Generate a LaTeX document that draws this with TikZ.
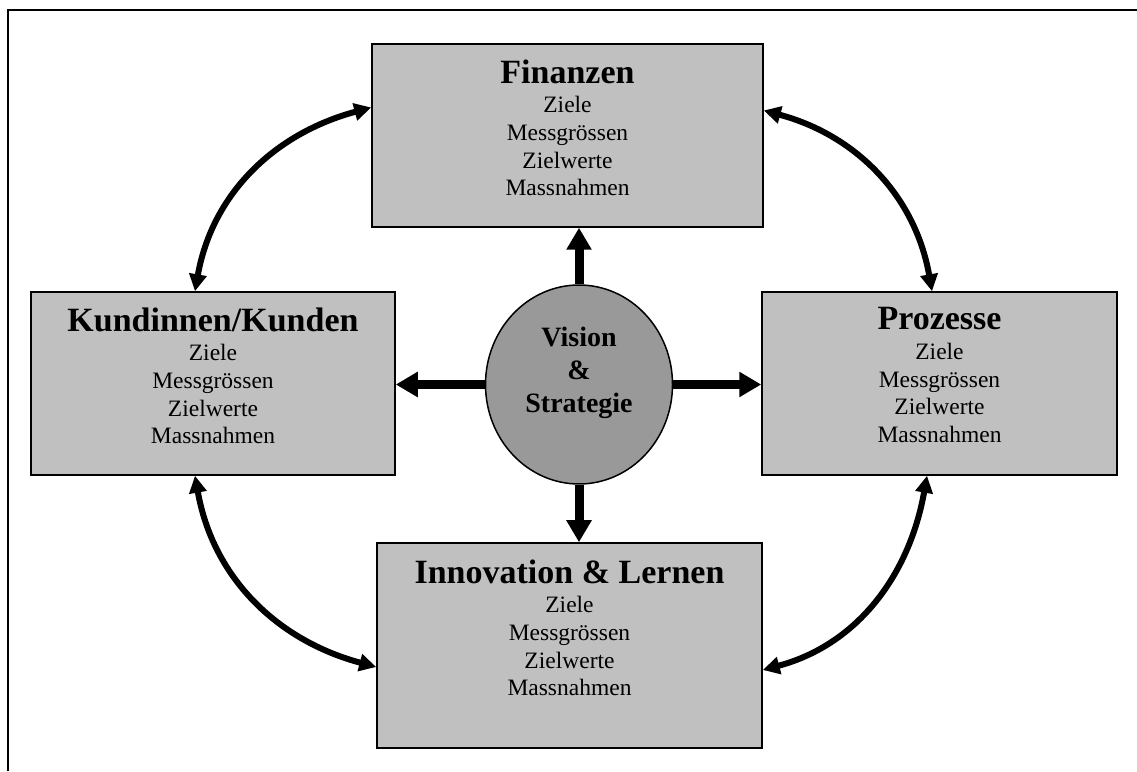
\documentclass[tikz,border=0pt]{standalone}
\usepackage{fontspec}
\setmainfont{Liberation Serif}
\usetikzlibrary{calc,shapes,arrows.meta}
\definecolor{boxgray}{RGB}{192,192,192}
\definecolor{visgray}{RGB}{153,153,153}
\newcommand{\boxtitle}[1]{{\fontsize{34}{34}\selectfont\bfseries #1}}

\begin{document}
\begin{tikzpicture}[x=1pt,y=1pt,
    box/.style={draw=black, line width=1.5pt, fill=boxgray, inner sep=0pt, minimum height=183pt},
    boxtext/.style={anchor=north, inner sep=0pt, align=center, font=\fontsize{23.5}{27.7}\selectfont},
    vision/.style={ellipse, draw=black, line width=1.5pt, fill=visgray, inner sep=0pt, minimum width=187pt, minimum height=199pt},
    bigarrow/.style={line width=9pt, -{Triangle[length=22pt,width=24pt]}},
    curvearrow/.style={line width=6pt, {Triangle[length=17pt,width=17pt]}-{Triangle[length=17pt,width=17pt]}}]
    \useasboundingbox (0,0) rectangle (1137,771);

    % frame
    \draw [line width=2.5pt] (8,0) -- (8,761) -- (1137,761);

    % the four boxes
    \node [box, minimum width=391pt] (fin) at (567.5,635.5) {};
    \node [box, minimum width=364pt] (kun) at (213,387.5) {};
    \node [box, minimum width=355pt] (pro) at (939.5,387.5) {};
    \node [box, minimum width=385pt, minimum height=205pt] (inn) at (569.5,125.5) {};

    \node [boxtext] (fintext) at ([yshift=-16pt]fin.north) {\boxtitle{Finanzen}\\[2pt] Ziele\\ Messgrössen\\ Zielwerte\\ Massnahmen};
    \node [boxtext] (kuntext) at ([yshift=-16pt]kun.north) {\boxtitle{Kundinnen/Kunden}\\[2pt] Ziele\\ Messgrössen\\ Zielwerte\\ Massnahmen};
    \node [boxtext] (protext) at ([yshift=-16pt]pro.north) {\boxtitle{Prozesse}\\[2pt] Ziele\\ Messgrössen\\ Zielwerte\\ Massnahmen};
    \node [boxtext] (inntext) at ([yshift=-17pt]inn.north) {\boxtitle{Innovation \& Lernen}\\[2pt] Ziele\\ Messgrössen\\ Zielwerte\\ Massnahmen};

    % vision in the middle
    \node [vision] (vs) at (579,386.5) {};
    \node [inner sep=0pt, align=center, font=\fontsize{28}{33}\selectfont\bfseries] (vstext) at ([yshift=11.5pt]vs.center) {Vision\\ \&\\ Strategie};

    \draw [bigarrow] (vs.north) -- (vs.north |- fin.south);
    \draw [bigarrow] (vs.west) -- (vs.west -| kun.east);
    \draw [bigarrow] (vs.east) -- (vs.east -| pro.west);
    \draw [bigarrow] (vs.south) -- (vs.south |- inn.north);

    % curved links between the boxes
    \draw [curvearrow] ([xshift=-18pt]kun.north) to [out=80, in=195] ([yshift=28pt]fin.west);
    \draw [curvearrow] ([yshift=25pt]fin.east) to [out=-15, in=100] ([xshift=-7.5pt]pro.north);
    \draw [curvearrow] ([xshift=-18pt]kun.south) to [out=-80, in=165] ([yshift=-21.5pt]inn.west);
    \draw [curvearrow] ([xshift=-12.5pt]pro.south) to [out=-100, in=15] ([yshift=-24.5pt]inn.east);
\end{tikzpicture}
\end{document}
